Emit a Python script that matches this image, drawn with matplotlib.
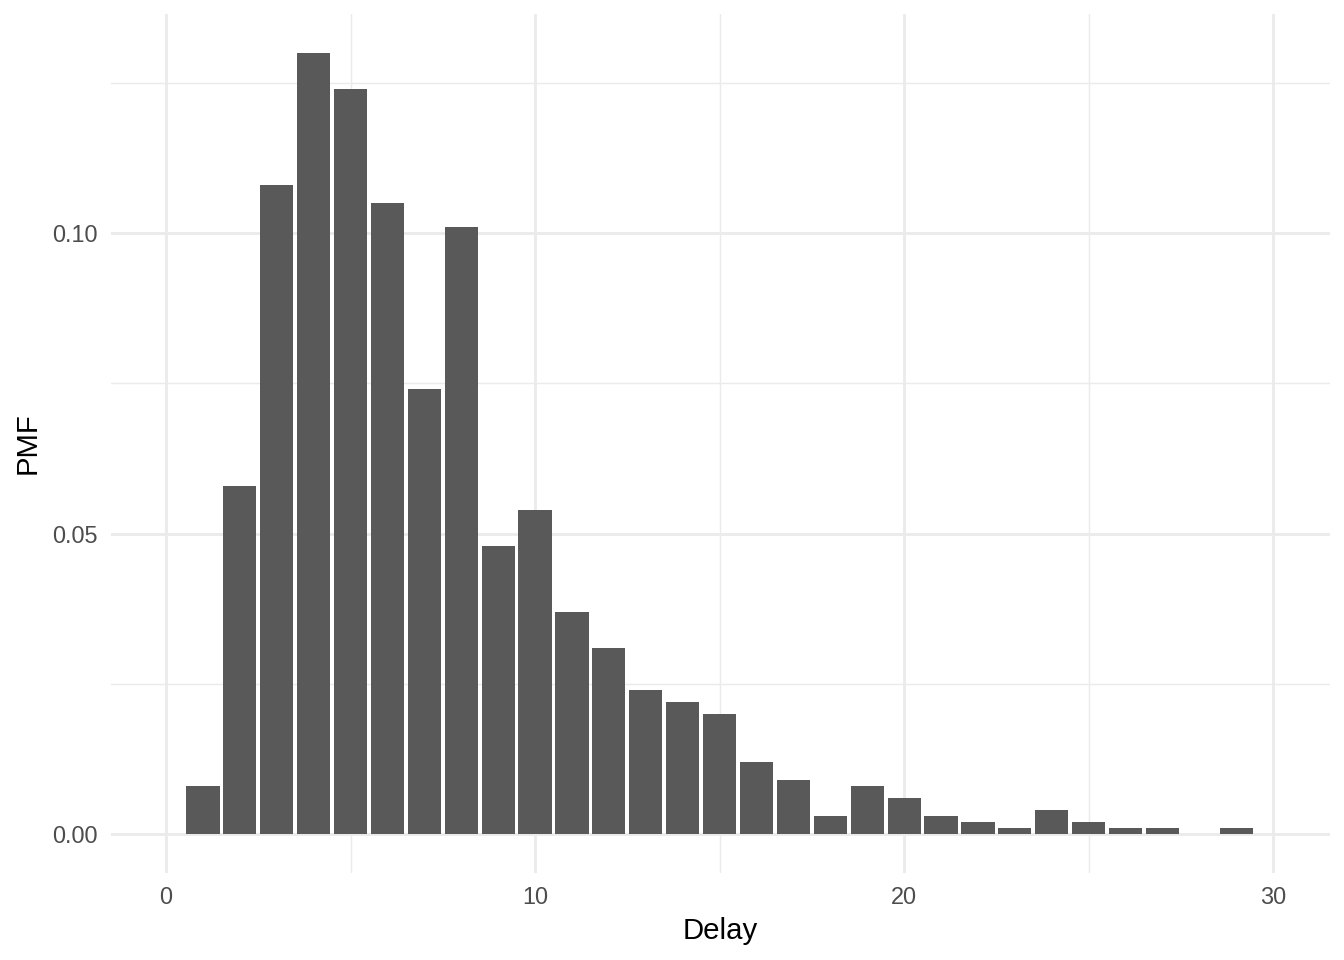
import numpy as np
import matplotlib
matplotlib.use('Agg')
import matplotlib.pyplot as plt

plt.rcParams['font.family'] = ['Liberation Sans', 'DejaVu Sans']

# delay distribution (PMF per day)
delay = list(range(1, 30))
pmf = [0.008, 0.058, 0.108, 0.130, 0.124, 0.105, 0.074, 0.101, 0.048, 0.054,
       0.037, 0.031, 0.024, 0.022, 0.020, 0.012, 0.009, 0.003, 0.008, 0.006,
       0.003, 0.002, 0.001, 0.004, 0.002, 0.001, 0.001, 0.0, 0.001]
x_ticks = [0, 10, 20, 30]
y_ticks = [0.00, 0.05, 0.10]
y_labels = ['0.00', '0.05', '0.10']

fig = plt.figure(figsize=(7, 5), dpi=192)
ax = fig.add_axes([0.0826, 0.0906, 0.9070, 0.8948])

ax.bar(delay, pmf, width=0.9, color='#595959', zorder=3)

ax.set_xlim(-1.49, 31.54)
ax.set_ylim(-0.0065, 0.1365)

ax.set_xticks(x_ticks)
ax.set_yticks(y_ticks)
ax.set_yticklabels(y_labels)
ax.set_xticks([5, 15, 25], minor=True)
ax.set_yticks([0.025, 0.075, 0.125], minor=True)

ax.grid(True, which='major', color='#EBEBEB', linewidth=1.07, zorder=0)
ax.grid(True, which='minor', color='#EBEBEB', linewidth=0.53, zorder=0)
ax.set_axisbelow(True)

for s in ax.spines.values():
    s.set_visible(False)
ax.tick_params(which='both', length=0)
ax.tick_params(which='major', labelsize=8.8, labelcolor='#4D4D4D', pad=5)

ax.set_xlabel('Delay', fontsize=11, labelpad=3)
ax.set_ylabel('PMF', fontsize=11, labelpad=4)

fig.savefig('out.png', dpi=192, facecolor='white')
